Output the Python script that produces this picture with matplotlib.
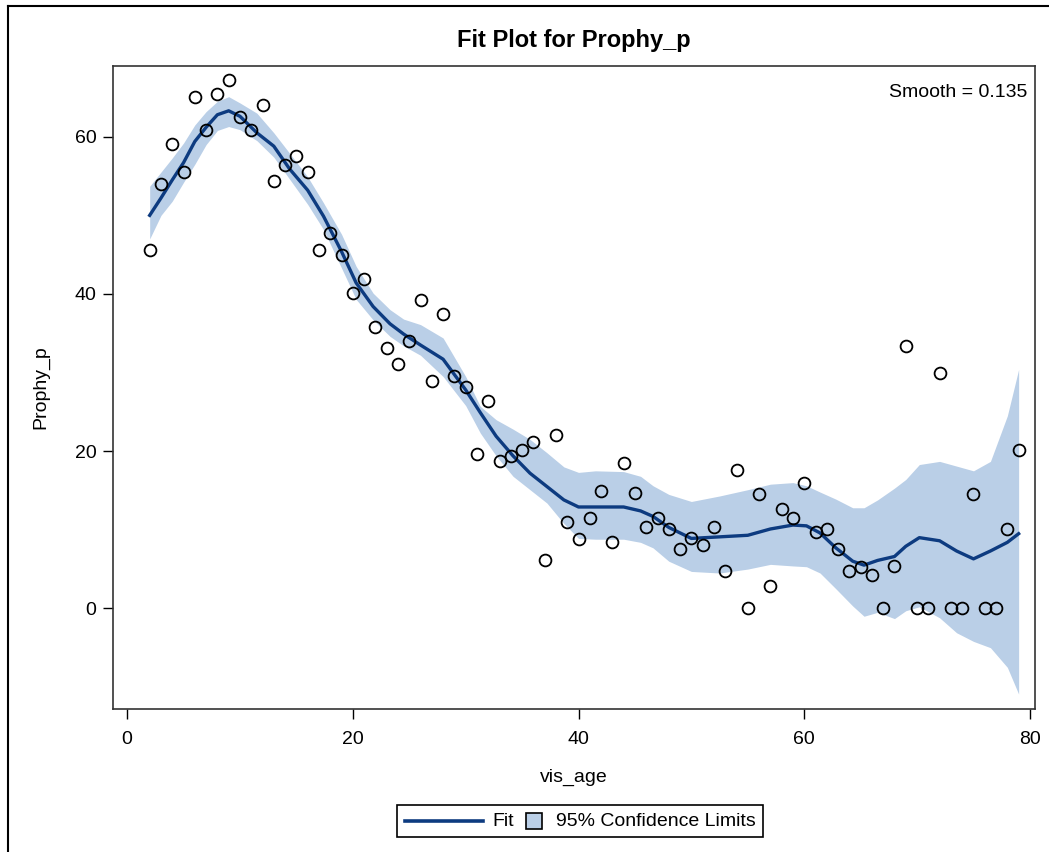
import matplotlib
matplotlib.use("Agg")
import matplotlib.pyplot as plt
from matplotlib.lines import Line2D
from matplotlib.patches import Rectangle
from matplotlib.offsetbox import DrawingArea, TextArea, HPacker, AnchoredOffsetbox

plt.rcParams['font.family'] = ['Liberation Sans', 'DejaVu Sans']

# Observed data
vis_age = list(range(2, 80))
prophy_p = [45.6, 54.0, 59.1, 55.5, 65.0, 60.8, 65.5, 67.2, 62.5, 60.9,
            64.1, 54.4, 56.4, 57.5, 55.5, 45.6, 47.8, 45.0, 40.1, 41.9,
            35.8, 33.1, 31.1, 34.0, 39.2, 28.9, 37.5, 29.5, 28.2, 19.6,
            26.4, 18.7, 19.4, 20.2, 21.2, 6.1, 22.1, 11.0, 8.8, 11.5,
            14.9, 8.5, 18.5, 14.7, 10.4, 11.5, 10.1, 7.5, 9.0, 8.1,
            10.3, 4.7, 17.6, 0.0, 14.5, 2.9, 12.6, 11.5, 16.0, 9.7,
            10.1, 7.5, 4.7, 5.3, 4.3, 0.0, 5.4, 33.4, 0.0, 0.0,
            30.0, 0.0, 0.0, 14.5, 0.0, 0.0, 10.1, 20.1]

# Loess fit and 95% confidence limits
curve_age = [2, 3, 4, 5, 6, 7, 8, 9, 10, 11.5, 13, 14.4, 16, 17.4, 19, 20.3,
             21.8, 23.3, 24.5, 26, 28, 30, 31.3, 32.7, 34.2, 35.7, 37.2, 38.7,
             40, 41.5, 44, 45.5, 46.6, 48, 50, 52.5, 55, 57, 59, 60.2, 61.4,
             62.8, 64.3, 65.3, 66.5, 68, 69, 70.2, 72, 73.5, 75, 76.5, 78, 79]
fit = [50.0, 52.2, 54.5, 56.7, 59.4, 61.2, 62.8, 63.3, 62.6, 60.5, 58.8, 55.9,
       53.2, 49.9, 45.4, 41.4, 38.4, 36.2, 34.9, 33.5, 31.7, 27.8, 24.9, 21.9,
       19.4, 17.2, 15.5, 13.8, 12.9, 12.9, 12.9, 12.4, 11.7, 10.3, 8.9, 9.1,
       9.3, 10.1, 10.6, 10.5, 9.6, 7.7, 6.0, 5.5, 6.1, 6.6, 7.9, 9.0, 8.6,
       7.3, 6.3, 7.3, 8.4, 9.5]
lower = [47.0, 50.0, 51.8, 54.2, 56.5, 59.0, 60.8, 61.3, 60.9, 59.5, 57.4, 54.6,
         51.4, 48.2, 43.3, 39.3, 36.7, 34.6, 33.4, 32.2, 29.5, 25.8, 22.3, 19.4,
         16.8, 15.1, 13.4, 10.8, 8.9, 8.8, 8.8, 8.4, 7.7, 6.0, 4.7, 4.5,
         5.0, 5.6, 5.4, 5.3, 4.5, 2.5, 0.3, -1.0, -0.5, -1.3, -0.3, 0.2, -1.2,
         -3.1, -4.2, -5.0, -7.5, -10.9]
upper = [53.7, 55.5, 57.3, 59.2, 61.5, 63.2, 64.5, 65.1, 64.3, 63.0, 60.5, 57.9,
         54.9, 51.6, 47.6, 43.5, 40.1, 38.0, 36.8, 36.1, 34.4, 29.5, 25.7, 24.0,
         22.8, 21.5, 19.8, 18.0, 17.3, 17.5, 17.4, 16.8, 15.6, 14.5, 13.6, 14.3,
         15.1, 15.8, 16.0, 15.6, 14.8, 13.9, 12.8, 12.8, 13.8, 15.3, 16.4, 18.3,
         18.7, 18.1, 17.5, 18.7, 24.5, 30.4]

x_ticks = [0, 20, 40, 60, 80]
y_ticks = [0, 20, 40, 60]
legend_labels = ['Fit', '95% Confidence Limits']

band_color = '#BACFE7'
line_color = '#0D3B80'
FS = 14

fig = plt.figure(figsize=(10.49, 8.52), dpi=100)
ax = fig.add_axes([113/1049, 1 - 709/852, (1035 - 113)/1049, (709 - 66)/852])

ax.fill_between(curve_age, lower, upper, color=band_color, linewidth=0, zorder=1)
ax.plot(curve_age, fit, color=line_color, linewidth=2.4, zorder=2)
ax.plot(vis_age, prophy_p, linestyle='none', marker='o', markersize=8.5,
        markerfacecolor='none', markeredgecolor='black', markeredgewidth=1.3, zorder=3)

ax.set_xlim(-1.25, 80.45)
ax.set_ylim(-12.8, 69.0)
ax.set_xticks(x_ticks)
ax.set_yticks(y_ticks)
ax.tick_params(axis='both', direction='out', length=7, width=1.0, labelsize=FS,
               colors='black')
ax.tick_params(axis='x', pad=9)
ax.tick_params(axis='y', pad=5)
for sp in ax.spines.values():
    sp.set_linewidth(1.2)
    sp.set_color('#333333')

ax.set_xlabel('vis_age', fontsize=FS, labelpad=15)
ax.set_ylabel('Prophy_p', fontsize=FS, labelpad=18)

ax.text(0.992, 0.972, 'Smooth = 0.135', transform=ax.transAxes, ha='right', va='top',
        fontsize=FS)

fig.text(574/1049, 1 - 40/852, 'Fit Plot for Prophy_p', ha='center', va='center',
         fontsize=17, fontweight='bold')

# Legend built from offset boxes (long line handle, small square handle)
da_line = DrawingArea(56, 12, 0, 0)
da_line.add_artist(Line2D([0, 56], [6, 6], color=line_color, linewidth=2.6))
da_sq = DrawingArea(11, 12, 0, 0)
da_sq.add_artist(Rectangle((0, 0.5), 11, 11, facecolor=band_color, edgecolor='black',
                           linewidth=1.2))
txt_fit = TextArea(legend_labels[0], textprops=dict(fontsize=FS))
txt_cl = TextArea(legend_labels[1], textprops=dict(fontsize=FS))
entry1 = HPacker(children=[da_line, txt_fit], sep=7, align='center', pad=0)
entry2 = HPacker(children=[da_sq, txt_cl], sep=10, align='center', pad=0)
row = HPacker(children=[entry1, entry2], sep=9, align='center', pad=0)
anch = AnchoredOffsetbox(loc='center', child=row, pad=0.55, borderpad=0,
                         bbox_to_anchor=(580/1049, 1 - 821/852),
                         bbox_transform=fig.transFigure, frameon=True)
anch.patch.set_edgecolor('black')
anch.patch.set_linewidth(1.2)
anch.patch.set_boxstyle('square', pad=0)
fig.add_artist(anch)

# Outer graph border (partially cropped in the reference)
fig.add_artist(Line2D([8/1049, 8/1049], [0, 1 - 6/852], color='black', linewidth=1.5,
                      transform=fig.transFigure))
fig.add_artist(Line2D([8/1049, 1], [1 - 6/852, 1 - 6/852], color='black', linewidth=1.5,
                      transform=fig.transFigure))

fig.savefig('out.png', dpi=100)
